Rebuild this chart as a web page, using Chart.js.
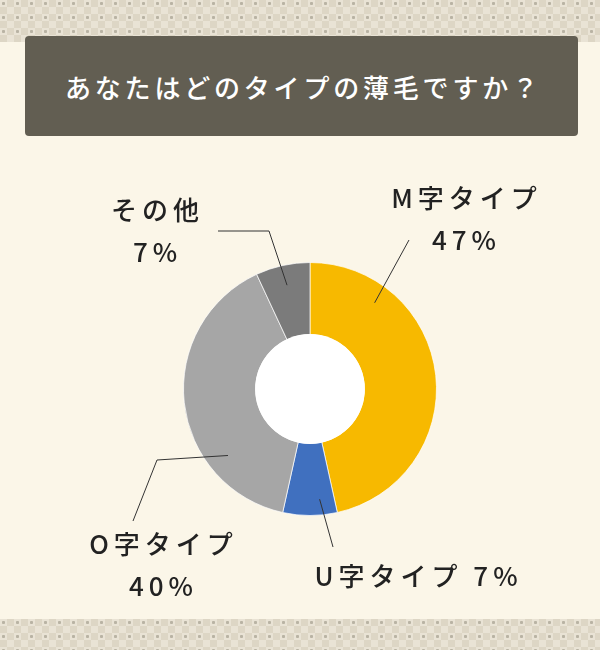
<!DOCTYPE html>
<html lang="ja">
<head>
<meta charset="utf-8">
<script src="https://cdn.jsdelivr.net/npm/chart.js@4.4.1/dist/chart.umd.min.js"></script>
<style>
  html, body { margin:0; padding:0; }
  body {
    width:600px; height:650px; position:relative; overflow:hidden;
    background:#FBF6E8;
    font-family:"Noto Sans CJK JP","Noto Sans",sans-serif;
  }
  .band {
    position:absolute; left:0; width:600px;
    background-color:#E3DDCD;
    background-image:
      radial-gradient(circle at 3.5px 3.5px, #B9B3A4 0 1.3px, transparent 1.8px),
      repeating-conic-gradient(#DDD6C5 0 25%, #E9E3D5 0 50%);
    background-size:14px 14px, 14px 14px;
  }
  #topband { top:0; height:42px; }
  #bottomband { top:619px; height:31px; }
  #titlebox {
    position:absolute; left:25px; top:36px; width:553px; height:100px;
    background:#625E52; border-radius:4px;
    color:#fff; font-size:26px; font-weight:500; letter-spacing:3.8px;
    display:flex; align-items:center; justify-content:center;
    padding-left:3.8px; box-sizing:border-box;
  }
  #chart { position:absolute; left:0; top:0; }
  .lbl {
    position:absolute; color:#222; font-size:26px; font-weight:500;
    letter-spacing:5px; padding-left:5px; text-align:center; line-height:42px; white-space:nowrap;
    transform:translate(-50%,-50%);
  }
</style>
</head>
<body>
<div class="band" id="topband"></div>
<div class="band" id="bottomband"></div>
<div id="titlebox">あなたはどのタイプの薄毛ですか？</div>
<canvas id="chart" width="600" height="650"></canvas>
<div id="labels"></div>
<script>
// ---- data ----
const title = "あなたはどのタイプの薄毛ですか？";
const categories = ["M字タイプ", "U字タイプ", "O字タイプ", "その他"];
const values = [47, 7, 40, 7];
const colors = ["#F7B900", "#4070BF", "#A6A6A6", "#7B7B7B"];

// ---- label layout (styling / positions only) ----
const labelPos = [
  { x: 464, y: 218, oneLine: false, pts: [[409, 240]], t: 0.22, r: 0.74 },
  { x: 416, y: 575, oneLine: true,  pts: [[333, 547]], t: 0.30, r: 0.78 },
  { x: 161, y: 564, oneLine: false, pts: [[157, 460], [133, 521]], t: 0.27, r: 0.71 },
  { x: 155, y: 230, oneLine: false, pts: [[269, 231], [218, 231]], t: 0.50, r: 0.72 }
];

// labels as real text
const labelsDiv = document.getElementById('labels');
categories.forEach((c, i) => {
  const d = document.createElement('div');
  d.className = 'lbl';
  d.style.left = labelPos[i].x + 'px';
  d.style.top = labelPos[i].y + 'px';
  d.innerHTML = labelPos[i].oneLine ? (c + '&nbsp;' + values[i] + '%') : (c + '<br>' + values[i] + '%');
  labelsDiv.appendChild(d);
});

const holePlugin = {
  id: 'hole',
  afterDatasetsDraw(chart) {
    const meta = chart.getDatasetMeta(0);
    const a0 = meta.data[0];
    const ctx = chart.ctx;
    ctx.save();
    ctx.fillStyle = '#FFFFFF';
    ctx.beginPath();
    ctx.arc(a0.x, a0.y, a0.innerRadius + 0.5, 0, Math.PI * 2);
    ctx.fill();
    // leader lines
    ctx.strokeStyle = '#333';
    ctx.lineWidth = 1;
    meta.data.forEach((arc, i) => {
      const L = labelPos[i];
      const ang = arc.startAngle + L.t * (arc.endAngle - arc.startAngle);
      const rad = arc.innerRadius + L.r * (arc.outerRadius - arc.innerRadius);
      ctx.beginPath();
      ctx.moveTo(arc.x + rad * Math.cos(ang), arc.y + rad * Math.sin(ang));
      L.pts.forEach(p => ctx.lineTo(p[0], p[1]));
      ctx.stroke();
    });
    ctx.restore();
  }
};

new Chart(document.getElementById('chart'), {
  type: 'doughnut',
  data: {
    labels: categories,
    datasets: [{
      data: values,
      backgroundColor: colors,
      borderColor: 'rgba(255,255,255,0.7)',
      borderWidth: 1
    }]
  },
  options: {
    responsive: false,
    animation: false,
    cutout: '43%',
    layout: { padding: { left: 183, right: 163, top: 262, bottom: 134 } },
    plugins: { legend: { display: false }, tooltip: { enabled: false }, title: { display: false } }
  },
  plugins: [holePlugin]
});
</script>
</body>
</html>
